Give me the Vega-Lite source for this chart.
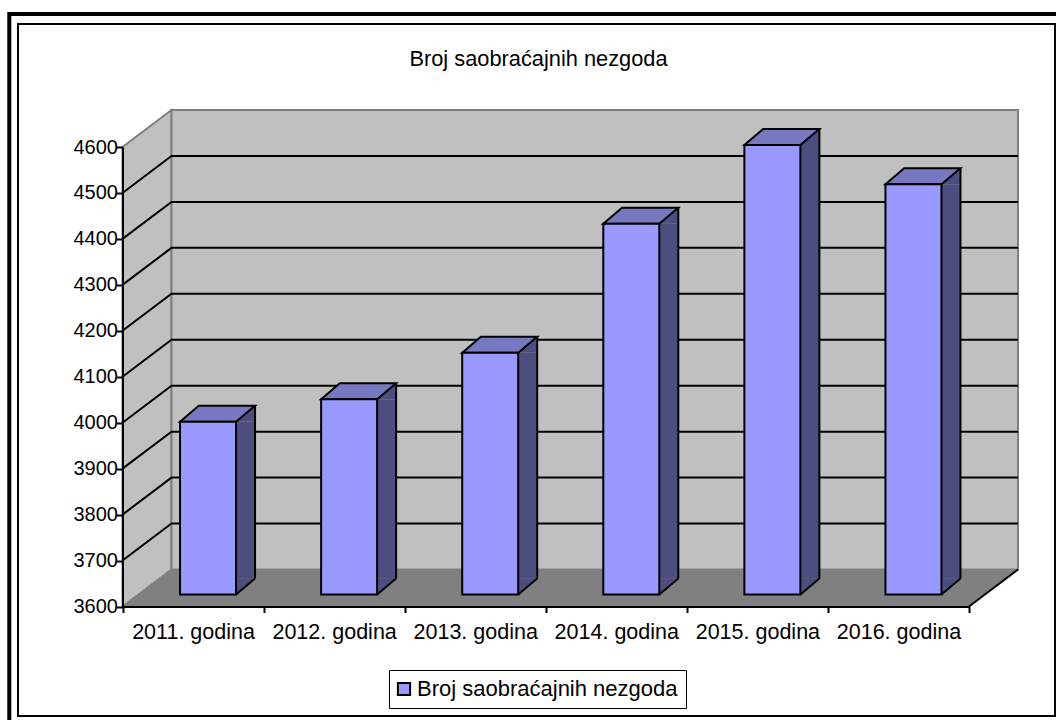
{
"$schema":"https://vega.github.io/schema/vega-lite/v6.json",
"width":1037,"height":692,
"autosize":{"type":"none"},
"padding":{"left":18,"top":24,"right":1,"bottom":4},
"background":"white",
"view":{"stroke":"black","strokeWidth":2,"fill":"white"},
"title":{"text":"Broj saobraćajnih nezgoda","font":"Liberation Sans","fontSize":21.8,"fontWeight":"normal","color":"black","anchor":"middle","frame":"group","orient":"top","offset":-65,"dx":2},
"config":{"font":"Liberation Sans"},
"data":{"values":[
{"year":"2011. godina","value":3976,"base":3600},
{"year":"2012. godina","value":4025,"base":3600},
{"year":"2013. godina","value":4126,"base":3600},
{"year":"2014. godina","value":4407,"base":3600},
{"year":"2015. godina","value":4578,"base":3600},
{"year":"2016. godina","value":4493,"base":3600}
]},
"encoding":{
"x":{"field":"year","type":"nominal","scale":{"type":"band","domain":["2011. godina","2012. godina","2013. godina","2014. godina","2015. godina","2016. godina"],"range":[104.5,951],"paddingInner":0,"paddingOuter":0},
"axis":{"title":null,"orient":"bottom","offset":-109.5,"labelAngle":0,"labelFont":"Liberation Sans","labelFontSize":21.5,"labelColor":"black","labelPadding":9,"tickBand":"extent","tickSize":6,"tickWidth":2,"tickColor":"black","domainColor":"black","domainWidth":2,"grid":false,"zindex":1}},
"y":{"field":"value","type":"quantitative","scale":{"domain":[3600,4600],"range":[582.5,123],"nice":false,"zero":false},
"axis":{"title":null,"orient":"left","offset":-104.5,"values":[3600,3700,3800,3900,4000,4100,4200,4300,4400,4500,4600],"format":"d","labelFont":"Liberation Sans","labelFontSize":20,"labelColor":"black","labelPadding":-1,"tickSize":6,"tickWidth":2,"tickColor":"black","domainColor":"black","domainWidth":2,"grid":false,"zindex":1}}
},
"layer":[
{"data":{"values":[{"part":"frame","base":3600}]},"mark":{"type":"point","shape":"M-1.132,1.3L-1.132,-5.925L9.6,-5.925","size":40000,"filled":false,"stroke":"black","strokeWidth":4,"opacity":1},"encoding":{"x":{"datum":"2011. godina","bandPosition":0},"y":{"field":"base","type":"quantitative"}}},
{"data":{"values":[{"part":"left wall","base":3600}]},"mark":{"type":"point","shape":"M0,0L0,-4.595L0.49,-4.965L0.49,-0.37Z","size":40000,"filled":true,"fill":"#c0c0c0","stroke":"#808080","strokeWidth":2,"opacity":1},"encoding":{"x":{"datum":"2011. godina","bandPosition":0},"y":{"field":"base","type":"quantitative"}}},
{"data":{"values":[{"part":"back wall","base":3600}]},"mark":{"type":"point","shape":"M0.49,-4.965L8.955,-4.965L8.955,-0.37L0.49,-0.37Z","size":40000,"filled":true,"fill":"#c0c0c0","stroke":"#808080","strokeWidth":2,"opacity":1},"encoding":{"x":{"datum":"2011. godina","bandPosition":0},"y":{"field":"base","type":"quantitative"}}},
{"data":{"values":[{"part":"floor","base":3600}]},"mark":{"type":"point","shape":"M0,0L0.49,-0.37L8.955,-0.37L8.465,0Z","size":40000,"filled":true,"fill":"#808080","stroke":"#808080","strokeWidth":1,"opacity":1},"encoding":{"x":{"datum":"2011. godina","bandPosition":0},"y":{"field":"base","type":"quantitative"}}},
{"data":{"values":[{"part":"floor edge","base":3600}]},"mark":{"type":"point","shape":"M8.465,0L8.955,-0.37","size":40000,"filled":false,"stroke":"black","strokeWidth":2,"opacity":1},"encoding":{"x":{"datum":"2011. godina","bandPosition":0},"y":{"field":"base","type":"quantitative"}}},
{"data":{"values":[{"tick":3700},{"tick":3800},{"tick":3900},{"tick":4000},{"tick":4100},{"tick":4200},{"tick":4300},{"tick":4400},{"tick":4500}]},"mark":{"type":"point","shape":"M0,0L0.49,-0.37L8.955,-0.37","size":40000,"filled":false,"stroke":"black","strokeWidth":2,"opacity":1},"encoding":{"x":{"datum":"2011. godina","bandPosition":0},"y":{"field":"tick","type":"quantitative"}}},
{"mark":{"type":"bar","width":19,"xOffset":52.5,"yOffset":-12,"y2Offset":-28,"fill":"#4d4d80"},"encoding":{"y2":{"field":"base"}}},
{"mark":{"type":"point","shape":"M0.28,0L0.47,-0.16L0.47,0Z","size":40000,"filled":true,"fill":"#4d4d80","stroke":null,"opacity":1,"xOffset":15,"yOffset":-12}},
{"mark":{"type":"point","shape":"M0.28,0L0.47,-0.16L0.28,-0.16Z","size":40000,"filled":true,"fill":"#4d4d80","stroke":null,"opacity":1,"xOffset":15,"yOffset":-12},"encoding":{"y":{"field":"base","type":"quantitative"}}},
{"mark":{"type":"point","shape":"M0.28,0L0.47,-0.16","size":40000,"filled":false,"stroke":"black","strokeWidth":2,"opacity":1,"xOffset":15,"yOffset":-12},"encoding":{"y":{"field":"base","type":"quantitative"}}},
{"mark":{"type":"rule","stroke":"black","strokeWidth":2,"xOffset":62,"yOffset":-28,"y2Offset":-28},"encoding":{"y2":{"field":"base"}}},
{"mark":{"type":"point","shape":"M-0.28,0L-0.093,-0.16L0.47,-0.16L0.28,0Z","size":40000,"filled":true,"fill":"#7878c0","stroke":"black","strokeWidth":2,"opacity":1,"xOffset":15,"yOffset":-12}},
{"mark":{"type":"bar","width":56,"xOffset":15,"yOffset":-12,"y2Offset":-12,"stroke":"black","strokeWidth":2},
"encoding":{"y2":{"field":"base"},"fill":{"datum":"Broj saobraćajnih nezgoda","type":"nominal","scale":{"range":["#9999ff"]},
"legend":{"title":null,"orient":"none","legendX":371,"legendY":646,"fillColor":"white","strokeColor":"black","padding":8,"symbolType":"square","symbolSize":150,"symbolStrokeColor":"black","symbolStrokeWidth":2,"symbolOffset":-4,"labelFont":"Liberation Sans","labelFontSize":22,"labelColor":"black","labelLimit":400,"labelOffset":2}}}}
]
}
